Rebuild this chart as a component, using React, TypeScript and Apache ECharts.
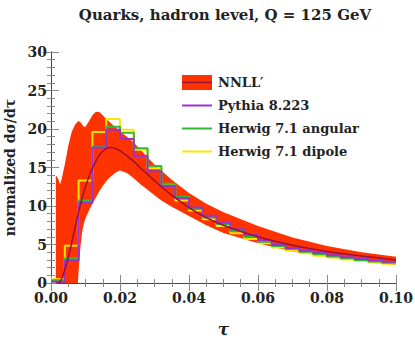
import React, { useEffect, useRef } from "react";
import * as echarts from "echarts";

// NNLL' uncertainty band
const bandTau = [0.0014, 0.002, 0.0026, 0.003, 0.004, 0.005, 0.006, 0.007, 0.0078, 0.008, 0.0085, 0.009, 0.0095, 0.010, 0.011, 0.012, 0.013, 0.014, 0.015, 0.016, 0.017, 0.018, 0.019, 0.020, 0.022, 0.024, 0.026, 0.028, 0.030, 0.032, 0.035, 0.040, 0.045, 0.050, 0.060, 0.070, 0.080, 0.090, 0.100];
const bandLow = [0, 0, 0, 0, 0, 0, 0, 0, 0, 1.5, 4.5, 6.6, 7.7, 8.4, 9.4, 10.3, 11.1, 11.9, 12.6, 13.2, 13.7, 14.1, 14.4, 14.6, 14.3, 13.6, 12.8, 12.1, 11.4, 10.7, 9.9, 8.7, 7.5, 6.5, 5.15, 4.1, 3.4, 2.8, 2.35];
const bandHigh = [14.0, 13.6, 12.8, 13.3, 15.4, 17.8, 19.6, 20.6, 21.0, 21.0, 20.9, 20.6, 20.3, 20.3, 21.0, 21.8, 22.25, 22.2, 21.8, 21.3, 20.9, 20.5, 20.1, 19.7, 19.0, 18.2, 17.3, 16.3, 15.4, 14.6, 13.4, 11.7, 10.3, 9.2, 7.4, 5.9, 4.8, 4.0, 3.4];

// NNLL' central curve
const centralTau = [0.0015, 0.0022, 0.003, 0.004, 0.005, 0.006, 0.007, 0.008, 0.009, 0.010, 0.011, 0.012, 0.013, 0.014, 0.015, 0.016, 0.017, 0.018, 0.019, 0.020, 0.022, 0.024, 0.026, 0.028, 0.030, 0.032, 0.035, 0.040, 0.045, 0.050, 0.060, 0.070, 0.080, 0.090, 0.100];
const centralVal = [0, 0, 0.5, 1.7, 3.3, 5.2, 7.3, 9.2, 11.0, 12.5, 13.8, 14.9, 15.8, 16.6, 17.1, 17.45, 17.6, 17.55, 17.4, 17.15, 16.5, 15.8, 14.9, 14.1, 13.3, 12.5, 11.4, 9.8, 8.5, 7.5, 6.0, 4.9, 4.1, 3.5, 3.0];

// Histogram bin left edges (width 0.004) and the upper end
const binEdges = [0, 0.004, 0.008, 0.012, 0.016, 0.02, 0.024, 0.028, 0.032, 0.036, 0.04, 0.044, 0.048, 0.052, 0.056, 0.06, 0.064, 0.068, 0.072, 0.076, 0.08, 0.084, 0.088, 0.092, 0.096, 0.1];
const pythia = [0.15, 2.9, 10.4, 17.6, 19.9, 18.7, 16.5, 14.5, 12.6, 11.0, 9.8, 8.75, 7.84, 6.97, 6.23, 5.58, 4.94, 4.55, 4.2, 3.88, 3.6, 3.35, 3.12, 2.92, 2.75];
const herwigAngular = [0.35, 3.2, 10.7, 17.7, 20.3, 19.5, 17.5, 15.2, 12.9, 11.2, 9.6, 8.5, 7.66, 6.75, 6.0, 5.37, 4.81, 4.4, 4.05, 3.72, 3.45, 3.2, 2.98, 2.8, 2.62];
const herwigDipole = [0.5, 4.85, 13.3, 19.6, 21.3, 19.9, 17.3, 14.9, 12.7, 10.7, 9.4, 8.27, 7.4, 6.45, 5.7, 5.15, 4.6, 4.2, 3.85, 3.55, 3.3, 3.05, 2.85, 2.65, 2.5];

const xTicks = ["0.00", "0.02", "0.04", "0.06", "0.08", "0.10"];

const legendNames = ["NNLL\u2032", "Pythia 8.223", "Herwig 7.1 angular", "Herwig 7.1 dipole"];

const C_BAND = "#ff3300";
const C_CENTRAL = "#99103a";
const C_PYTHIA = "#9933cc";
const C_ANG = "#33b833";
const C_DIP = "#ffe600";
const FONT = "DejaVu Serif";

function histData(vals: number[]) {
  const d: number[][] = vals.map((v, i) => [binEdges[i], v]);
  d.push([binEdges[vals.length], vals[vals.length - 1]]);
  return d;
}

export default function App() {
  const ref = useRef<HTMLDivElement>(null);
  useEffect(() => {
    if (!ref.current) return;
    const chart = echarts.init(ref.current, null, { renderer: "svg" });
    const axisCommon = (show: boolean) => ({
      axisLine: { show: true, lineStyle: { color: "#444", width: 1 } },
      axisTick: { show: true, inside: true, length: 8, lineStyle: { color: "#888" } },
      minorTick: { show: true, length: 4, lineStyle: { color: "#888" } },
      splitLine: { show: false },
      minorSplitLine: { show: false },
      axisLabel: {
        show,
        fontFamily: FONT,
        fontWeight: "bold",
        fontSize: 14,
        color: "#222",
      },
    });
    const xBase = {
      type: "value",
      min: 0,
      max: 0.1,
      interval: 0.02,
      ...axisCommon(true),
    };
    const yBase = {
      type: "value",
      min: 0,
      max: 30,
      interval: 5,
      ...axisCommon(true),
    };
    const lx = 182;
    const lw = 30;
    const tx = 218;
    const rows = [82.5, 105.5, 128.5, 151.5];
    const option: any = {
      animation: false,
      grid: { left: 51, right: 19, top: 52, bottom: 56, containLabel: false, outerBoundsMode: "none" },
      xAxis: [
        {
          ...xBase,
          position: "bottom",
          minorTick: { show: true, splitNumber: 4, length: 4, lineStyle: { color: "#888" } },
          axisLabel: {
            ...axisCommon(true).axisLabel,
            margin: 8,
            formatter: (v: number) => xTicks[Math.round(v / 0.02)] ?? "",
          },
          name: "\u03c4",
          nameLocation: "middle",
          nameGap: 37,
          nameTextStyle: { fontFamily: FONT, fontWeight: "bold", fontStyle: "italic", fontSize: 17, color: "#222" },
        },
        {
          ...xBase,
          position: "top",
          minorTick: { show: true, splitNumber: 4, length: 4, lineStyle: { color: "#888" } },
          axisLabel: { show: false },
        },
      ],
      yAxis: [
        {
          ...yBase,
          position: "left",
          minorTick: { show: true, splitNumber: 5, length: 4, lineStyle: { color: "#888" } },
          axisLabel: { ...axisCommon(true).axisLabel, margin: 4 },
          name: "normalized d\u03c3/d\u03c4",
          nameLocation: "middle",
          nameGap: 29,
          nameRotate: 90,
          nameTextStyle: { fontFamily: FONT, fontWeight: "bold", fontSize: 14, color: "#222" },
        },
        {
          ...yBase,
          position: "right",
          minorTick: { show: true, splitNumber: 5, length: 4, lineStyle: { color: "#888" } },
          axisLabel: { show: false },
        },
      ],
      series: [
        {
          type: "custom",
          name: "band",
          silent: true,
          z: 1,
          clip: true,
          data: bandTau.map((t, i) => [t, bandLow[i], bandHigh[i]]),
          encode: { x: 0, y: [1, 2] },
          renderItem: (params: any, api: any) => {
            if (params.dataIndex !== 0) return null;
            const pts: number[][] = [];
            for (let i = 0; i < bandTau.length; i++) pts.push(api.coord([bandTau[i], bandHigh[i]]));
            for (let i = bandTau.length - 1; i >= 0; i--) pts.push(api.coord([bandTau[i], bandLow[i]]));
            return {
              type: "polygon",
              shape: { points: pts, smooth: 0 },
              style: { fill: C_BAND, stroke: null },
            };
          },
        },
        {
          type: "line",
          name: legendNames[3],
          data: histData(herwigDipole),
          step: "end",
          symbol: "none",
          lineStyle: { color: C_DIP, width: 2 },
          z: 3,
        },
        {
          type: "line",
          name: legendNames[2],
          data: histData(herwigAngular),
          step: "end",
          symbol: "none",
          lineStyle: { color: C_ANG, width: 2 },
          z: 4,
        },
        {
          type: "line",
          name: legendNames[1],
          data: histData(pythia),
          step: "end",
          symbol: "none",
          lineStyle: { color: C_PYTHIA, width: 2 },
          z: 5,
        },
        {
          type: "line",
          name: legendNames[0],
          data: centralTau.map((t, i) => [t, centralVal[i]]),
          smooth: 0.3,
          symbol: "none",
          lineStyle: { color: C_CENTRAL, width: 1.5 },
          z: 6,
        },
      ],
      graphic: [
        {
          type: "text",
          x: 225,
          y: 15,
          style: {
            text: "Quarks, hadron level, Q = 125 GeV",
            fontFamily: FONT,
            fontWeight: "bold",
            fontSize: 15,
            fill: "#222",
            textAlign: "center",
            textVerticalAlign: "middle",
          },
        },
        { type: "rect", shape: { x: lx, y: rows[0] - 7.5, width: lw, height: 15 }, style: { fill: C_BAND } },
        { type: "line", shape: { x1: lx, y1: rows[0], x2: lx + lw, y2: rows[0] }, style: { stroke: C_CENTRAL, lineWidth: 1.5 } },
        { type: "line", shape: { x1: lx, y1: rows[1], x2: lx + lw, y2: rows[1] }, style: { stroke: C_PYTHIA, lineWidth: 2 } },
        { type: "line", shape: { x1: lx, y1: rows[2], x2: lx + lw, y2: rows[2] }, style: { stroke: C_ANG, lineWidth: 2 } },
        { type: "line", shape: { x1: lx, y1: rows[3], x2: lx + lw, y2: rows[3] }, style: { stroke: C_DIP, lineWidth: 2 } },
        ...legendNames.map((n, i) => ({
          type: "text",
          x: tx,
          y: rows[i],
          style: {
            text: n,
            fontFamily: FONT,
            fontWeight: "bold",
            fontSize: 13,
            fill: "#222",
            textAlign: "left",
            textVerticalAlign: "middle",
          },
        })),
      ],
    };
    chart.setOption(option);
    return () => chart.dispose();
  }, []);
  return (
    <div
      ref={ref}
      style={{ position: "fixed", left: 0, top: 0, width: 415, height: 339, background: "#fff" }}
    />
  );
}
